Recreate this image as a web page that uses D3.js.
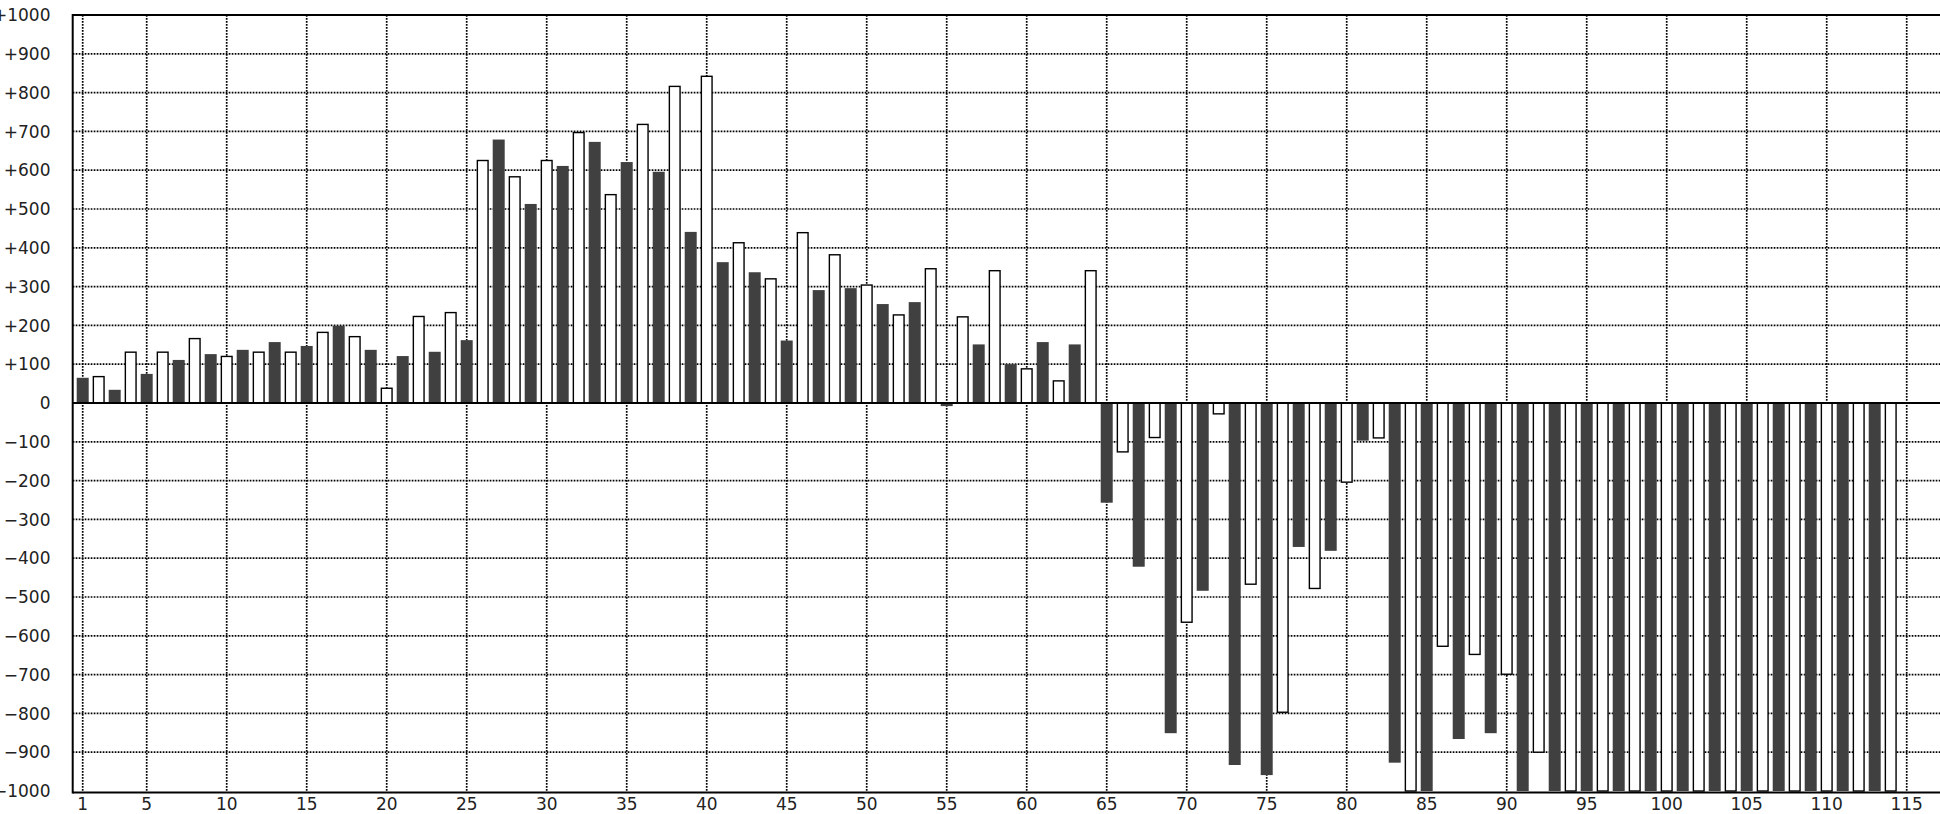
<!DOCTYPE html>
<html>
<head>
<meta charset="utf-8">
<script src="https://cdn.jsdelivr.net/npm/d3@7"></script>
<style>
  html, body { margin: 0; padding: 0; background: #fff; }
  svg { display: block; }
  text { font-family: "DejaVu Sans", sans-serif; font-size: 17px; fill: #222; }
</style>
</head>
<body>
<script>
// ---- data ----
// dark series: odd positions 1,3,...,113
const darkValues = [65,34,75,111,126,137,157,147,199,137,121,132,162,679,513,611,673,621,596,441,
  363,337,161,291,296,255,260,-8,151,100,157,151,-257,-422,-851,-484,-933,-959,-371,-381,
  -97,-927,-1000,-866,-851,-1000,-1000,-1000,-1000,-1000,-1000,-1000,-1000,-1000,-1000,-1000,-1000];
// white series: even positions 2,4,...,114
const whiteValues = [68,131,131,166,120,131,131,182,171,38,223,233,625,583,625,697,537,718,816,842,
  413,320,439,382,304,227,346,222,341,88,57,341,-126,-89,-565,-28,-467,-797,-478,-204,
  -90,-1000,-627,-648,-699,-900,-1000,-1000,-1000,-1000,-1000,-1000,-1000,-1000,-1000,-1000,-1000];
const darkPositions = darkValues.map((_, i) => 1 + 2 * i);
const whitePositions = whiteValues.map((_, i) => 2 + 2 * i);
const xTickValues = [1,5,10,15,20,25,30,35,40,45,50,55,60,65,70,75,80,85,90,95,100,105,110,115];
const yTickValues = [1000,900,800,700,600,500,400,300,200,100,0,-100,-200,-300,-400,-500,-600,-700,-800,-900,-1000];

// ---- layout ----
const W = 1940, H = 814;
const svg = d3.select("body").append("svg").attr("width", W).attr("height", H);

const x = d3.scaleLinear().domain([0.375, 117.08]).range([72.7, 1940]);
const y = d3.scaleLinear().domain([-1000, 1000]).range([791, 15]);
const step = x(2) - x(1);
const barW = step * 0.75;

const fmt = v => v > 0 ? "+" + v : (v < 0 ? "\u2212" + Math.abs(v) : "0");

svg.append("defs").append("clipPath").attr("id", "plot")
  .append("rect").attr("x", x(0.375)).attr("y", y(1000)).attr("width", W - x(0.375)).attr("height", y(-1000) - y(1000) + 2);

// grid
const grid = svg.append("g").attr("stroke", "#000").attr("stroke-width", 1.7).attr("stroke-dasharray", "1.7,1.3").attr("fill", "none");
grid.selectAll("line.h").data(yTickValues.filter(v => v !== 0 && Math.abs(v) !== 1000)).join("line")
  .attr("class", "h").attr("x1", x(0.375)).attr("x2", W).attr("y1", d => y(d)).attr("y2", d => y(d));
grid.selectAll("line.v").data(xTickValues).join("line")
  .attr("class", "v").attr("x1", d => x(d)).attr("x2", d => x(d)).attr("y1", y(1000)).attr("y2", y(-1000));

// bars
const bars = svg.append("g").attr("clip-path", "url(#plot)");
bars.selectAll("rect.dark").data(darkValues).join("rect")
  .attr("class", "dark")
  .attr("x", (d, i) => x(darkPositions[i]) - barW / 2)
  .attr("width", barW)
  .attr("y", d => y(Math.max(0, d)))
  .attr("height", d => Math.abs(y(d) - y(0)))
  .attr("fill", "#404040");
bars.selectAll("rect.white").data(whiteValues).join("rect")
  .attr("class", "white")
  .attr("x", (d, i) => x(whitePositions[i]) - barW / 2 + 0.65)
  .attr("width", barW - 1.3)
  .attr("y", d => y(Math.max(0, d)))
  .attr("height", d => Math.abs(y(d) - y(0)))
  .attr("fill", "#fff").attr("stroke", "#000").attr("stroke-width", 1.4);

// zero line and frame
svg.append("line").attr("x1", x(0.375)).attr("x2", W).attr("y1", y(0)).attr("y2", y(0))
  .attr("stroke", "#000").attr("stroke-width", 2);
svg.append("line").attr("x1", x(0.375)).attr("x2", W).attr("y1", y(1000)).attr("y2", y(1000))
  .attr("stroke", "#000").attr("stroke-width", 2);
svg.append("line").attr("x1", x(0.375)).attr("x2", W).attr("y1", y(-1000) + 1.5).attr("y2", y(-1000) + 1.5)
  .attr("stroke", "#000").attr("stroke-width", 2);
svg.append("line").attr("x1", x(0.375)).attr("x2", x(0.375)).attr("y1", y(1000) - 1).attr("y2", y(-1000) + 2.5)
  .attr("stroke", "#000").attr("stroke-width", 2);

// y labels
svg.append("g").selectAll("text").data(yTickValues).join("text")
  .attr("x", 50.5).attr("y", d => y(d)).attr("dy", "0.36em")
  .attr("text-anchor", "end").text(fmt);

// x labels
svg.append("g").selectAll("text").data(xTickValues).join("text")
  .attr("x", d => x(d)).attr("y", 810)
  .attr("text-anchor", "middle").text(d => d);
</script>
</body>
</html>
